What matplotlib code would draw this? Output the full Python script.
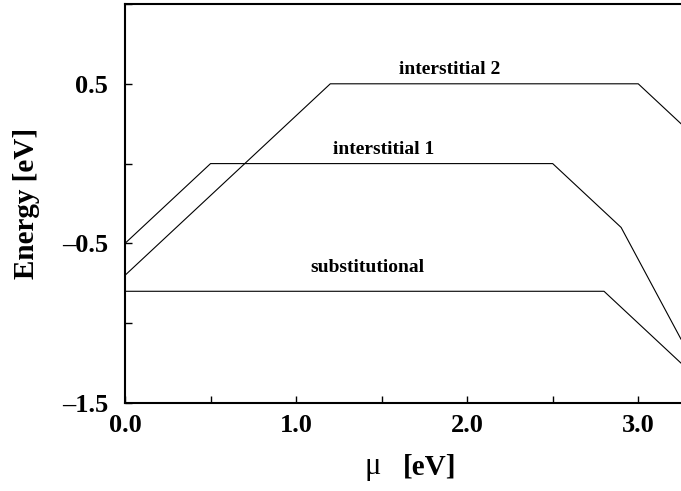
import matplotlib.pyplot as plt
from matplotlib.ticker import MultipleLocator, FuncFormatter

# formation energies vs chemical potential (piecewise linear)
mu_int2 = [0.0, 1.2, 3.0, 3.25]
e_int2 = [-0.7, 0.5, 0.5, 0.25]

mu_int1 = [0.0, 0.5, 2.5, 2.9, 3.25]
e_int1 = [-0.5, 0.0, 0.0, -0.4, -1.1]

mu_sub = [0.0, 2.8, 3.25]
e_sub = [-0.8, -0.8, -1.25]

labels = ['interstitial 2', 'interstitial 1', 'substitutional']
label_pos = [(1.9, 0.59), (1.51, 0.09), (1.42, -0.65)]

plt.rcParams['font.family'] = ['Liberation Serif', 'DejaVu Serif']
plt.rcParams['font.weight'] = 'bold'

fig = plt.figure(figsize=(6.81, 4.91), dpi=100)
ax = fig.add_axes([125/681, 1 - 403/491, 1 - 125/681 + 0.01, (403 - 4)/491])

for mu, e in [(mu_int2, e_int2), (mu_int1, e_int1), (mu_sub, e_sub)]:
    ax.plot(mu, e, color='black', lw=0.8)

for txt, (x, y) in zip(labels, label_pos):
    ax.text(x, y, txt, ha='center', va='center', fontsize=14, fontweight='bold')

ax.set_xlim(0, 3.25 + 0.01 * 3.25 / (1 - 125/681))
ax.set_ylim(-1.5, 1.0)

ax.xaxis.set_major_locator(MultipleLocator(0.5))
ax.yaxis.set_major_locator(MultipleLocator(0.5))
ax.xaxis.set_major_formatter(FuncFormatter(
    lambda v, p: f'{v:.1f}' if abs(v - round(v)) < 1e-6 else ''))
ax.yaxis.set_major_formatter(FuncFormatter(
    lambda v, p: f'{v:.1f}'.replace('-', '\u2013') if abs(v - round(v)) > 0.4 else ''))

ax.tick_params(direction='in', length=5, width=1, labelsize=19)
ax.tick_params(axis='x', pad=8)
ax.tick_params(axis='y', pad=12)
for lab in ax.get_xticklabels() + ax.get_yticklabels():
    lab.set_fontweight('bold')
for s in ax.spines.values():
    s.set_linewidth(1.5)

# x label: plain mu symbol followed by bold unit
xt = ax.get_xaxis_transform()
ax.text(1.45, -0.16, '\u03bc', transform=xt, ha='center', va='center',
        fontsize=22, fontweight='normal')
ax.text(1.78, -0.16, '[eV]', transform=xt, ha='center', va='center',
        fontsize=21, fontweight='bold')
ax.set_ylabel('Energy [eV]', fontsize=21, fontweight='bold', labelpad=16)

fig.savefig('out.png', dpi=100)
